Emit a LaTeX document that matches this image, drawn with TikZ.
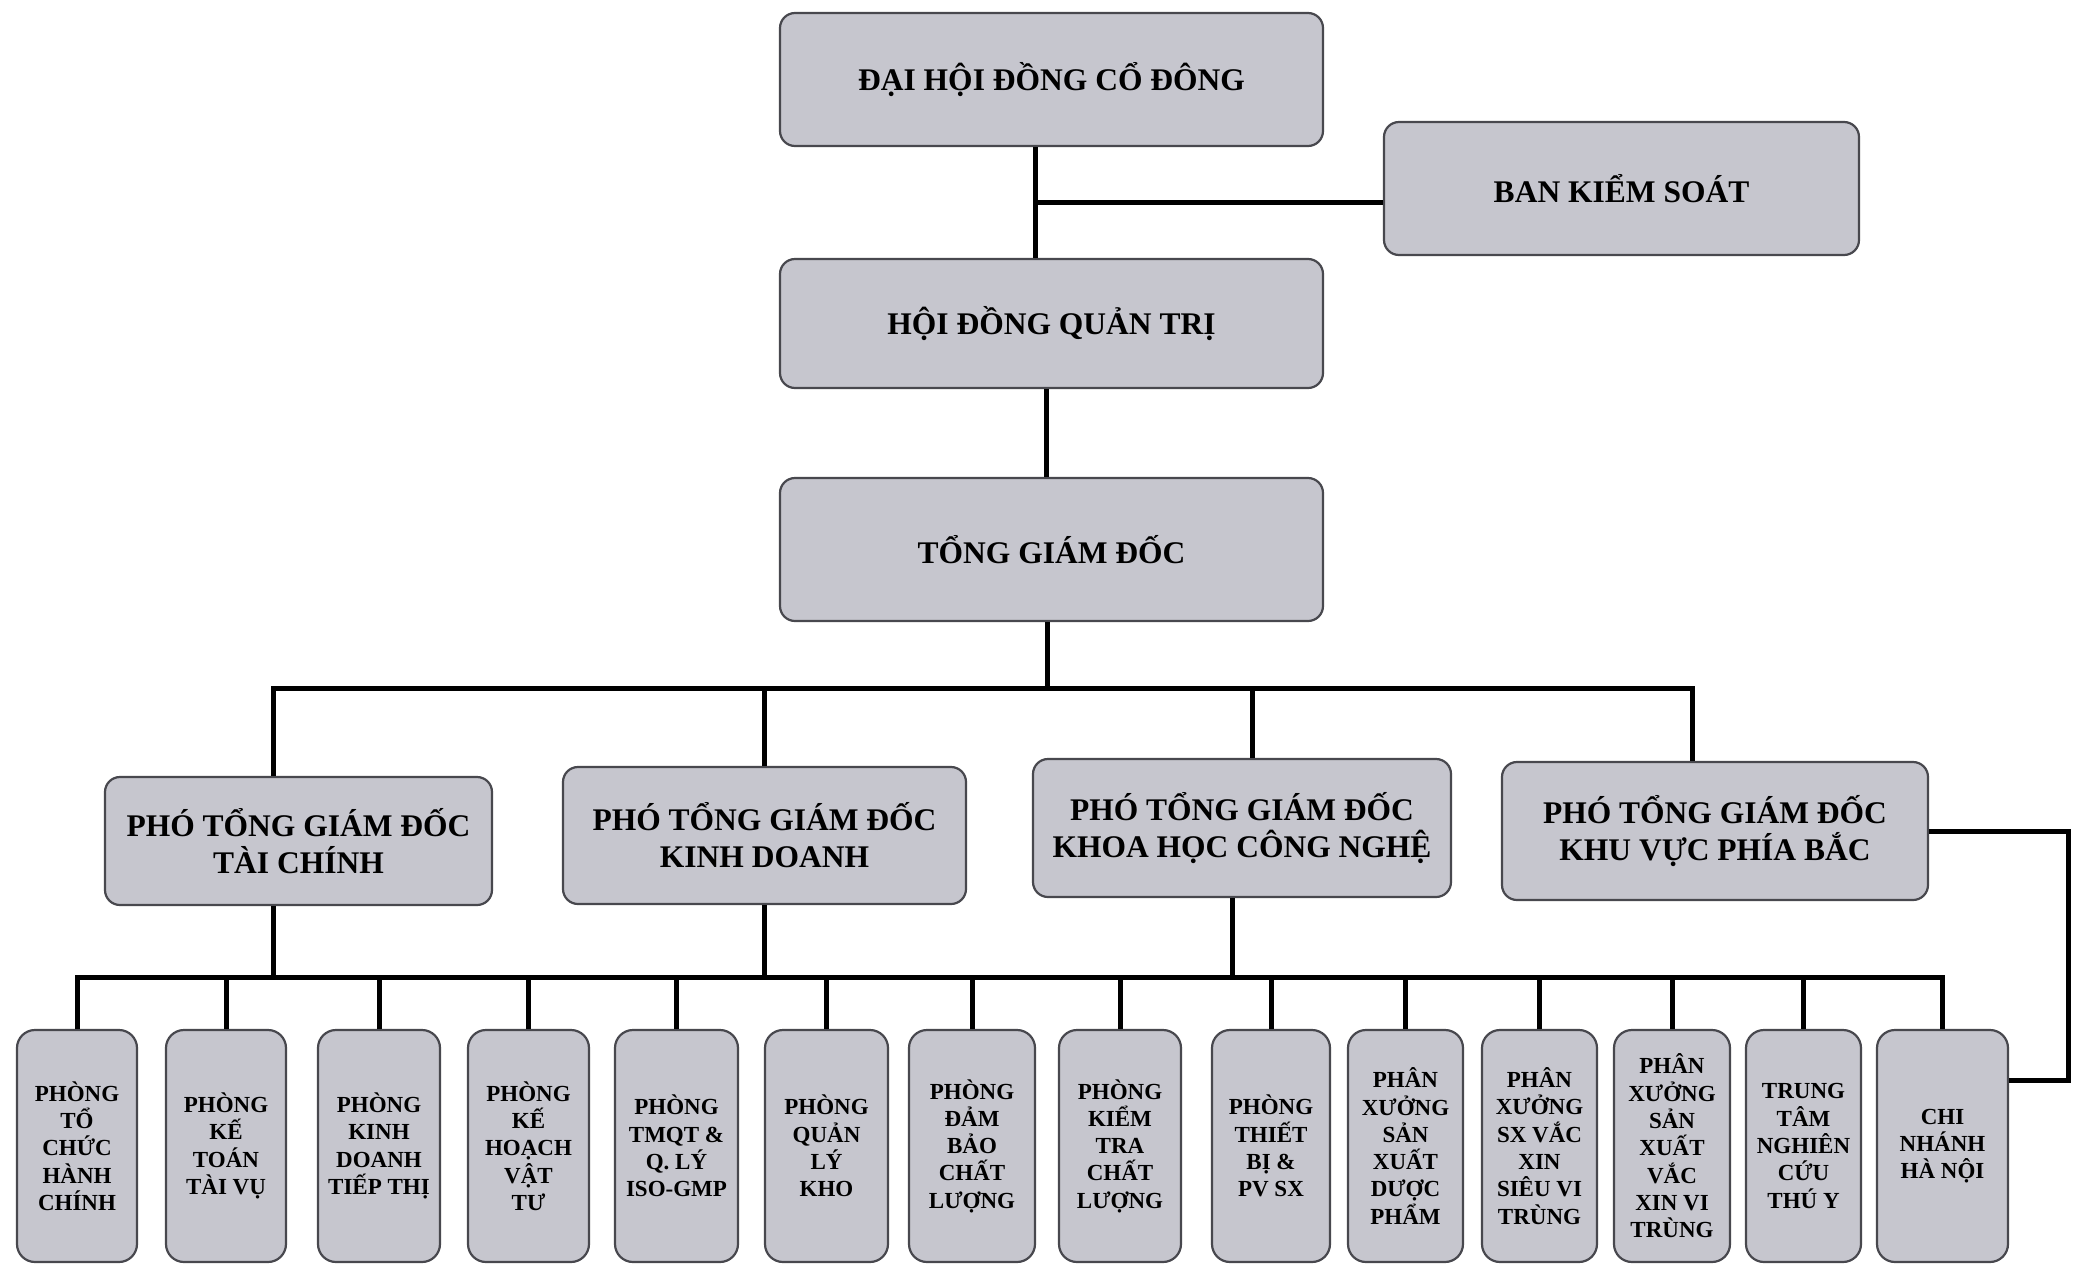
\documentclass[tikz,border=0pt]{standalone}
\usepackage{fontspec}
\setmainfont{Liberation Serif}
\definecolor{boxfill}{RGB}{198,198,206}
\definecolor{boxline}{RGB}{72,72,78}
\begin{document}
\begin{tikzpicture}[x=1pt,y=-1pt,
  box/.style={draw=boxline,line width=2.2pt,fill=boxfill,rounded corners=15pt,
    align=center,inner sep=0pt,font=\bfseries\fontsize{31.5}{37}\selectfont},
  leaf/.style={box,rounded corners=18pt,minimum height=232pt,
    font=\bfseries\fontsize{23}{27.3}\selectfont},
  conn/.style={line width=5pt,draw=black}]
\fill[white] (0,0) rectangle (2081,1264);
\useasboundingbox (0,0) rectangle (2081,1264);

% top level
\node[box,minimum width=543pt,minimum height=133pt] (dh) at (1051.5,79.5) {ĐẠI HỘI ĐỒNG CỔ ĐÔNG};
\node[box,minimum width=475pt,minimum height=133pt] (bks) at (1621.5,188.5) {BAN KIỂM SOÁT};
\node[box,minimum width=543pt,minimum height=129pt] (hd) at (1051.5,323.5) {HỘI ĐỒNG QUẢN TRỊ};
\node[box,minimum width=543pt,minimum height=143pt] (tgd) at (1051.5,549.5) {TỔNG GIÁM ĐỐC};

% vice directors
\node[box,minimum width=387pt,minimum height=128pt] (p1) at (298.5,841) {PHÓ TỔNG GIÁM ĐỐC\\TÀI CHÍNH};
\node[box,minimum width=403pt,minimum height=137pt] (p2) at (764.5,835.5) {PHÓ TỔNG GIÁM ĐỐC\\KINH DOANH};
\node[box,minimum width=418pt,minimum height=138pt] (p3) at (1242,828) {PHÓ TỔNG GIÁM ĐỐC\\KHOA HỌC CÔNG NGHỆ};
\node[box,minimum width=426pt,minimum height=138pt] (p4) at (1715,831) {PHÓ TỔNG GIÁM ĐỐC\\KHU VỰC PHÍA BẮC};

% departments
\node[leaf,minimum width=120pt] (l1) at (77,1146) {PHÒNG\\TỔ\\CHỨC\\HÀNH\\CHÍNH};
\node[leaf,minimum width=120pt] (l2) at (226,1146) {PHÒNG\\KẾ\\TOÁN\\TÀI VỤ};
\node[leaf,minimum width=122pt] (l3) at (379,1146) {PHÒNG\\KINH\\DOANH\\TIẾP THỊ};
\node[leaf,minimum width=121pt] (l4) at (528.5,1146) {PHÒNG\\KẾ\\HOẠCH\\VẬT\\TƯ};
\node[leaf,minimum width=123pt] (l5) at (676.5,1146) {PHÒNG\\TMQT \&\\Q. LÝ\\ISO-GMP};
\node[leaf,minimum width=123pt] (l6) at (826.5,1146) {PHÒNG\\QUẢN\\LÝ\\KHO};
\node[leaf,minimum width=126pt] (l7) at (972,1146) {PHÒNG\\ĐẢM\\BẢO\\CHẤT\\LƯỢNG};
\node[leaf,minimum width=122pt] (l8) at (1120,1146) {PHÒNG\\KIỂM\\TRA\\CHẤT\\LƯỢNG};
\node[leaf,minimum width=118pt] (l9) at (1271,1146) {PHÒNG\\THIẾT\\BỊ \&\\PV SX};
\node[leaf,minimum width=115pt] (l10) at (1405.5,1146) {PHÂN\\XƯỞNG\\SẢN\\XUẤT\\DƯỢC\\PHẨM};
\node[leaf,minimum width=115pt] (l11) at (1539.5,1146) {PHÂN\\XƯỞNG\\SX VẮC\\XIN\\SIÊU VI\\TRÙNG};
\node[leaf,minimum width=116pt] (l12) at (1672,1146) {PHÂN\\XƯỞNG\\SẢN\\XUẤT\\VẮC\\XIN VI\\TRÙNG};
\node[leaf,minimum width=115pt] (l13) at (1803.5,1146) {TRUNG\\TÂM\\NGHIÊN\\CỨU\\THÚ Y};
\node[leaf,minimum width=131pt] (l14) at (1942.5,1146) {CHI\\NHÁNH\\HÀ NỘI};

% junction coordinates
\coordinate (j1) at (1035,202);
\coordinate (topbus) at (0,688);
\coordinate (lowbus) at (0,977);
\coordinate (rc) at (2068,1080);

% connectors
\draw[conn] (dh.south -| j1) -- (hd.north -| j1);
\draw[conn] (j1) -- (j1 -| bks.west);
\draw[conn] (1046,0 |- hd.south) -- (1046,0 |- tgd.north);
\draw[conn] (1047,0 |- tgd.south) -- (1047,0 |- topbus);
\draw[conn] (273,0 |- p1.north) -- (273,0 |- topbus) -- (1692,0 |- topbus) -- (1692,0 |- p4.north);
\draw[conn] (p2.north |- topbus) -- (p2.north);
\draw[conn] (1252,0 |- topbus) -- (1252,0 |- p3.north);

\draw[conn] (273,0 |- p1.south) -- (273,0 |- lowbus);
\draw[conn] (p2.south) -- (p2.south |- lowbus);
\draw[conn] (1232,0 |- p3.south) -- (1232,0 |- lowbus);

\draw[conn] (l1.north) -- (l1.north |- lowbus) -- (l14.north |- lowbus) -- (l14.north);
\foreach \n in {l2,l3,l4,l5,l6,l7,l8,l9,l10,l11,l12,l13}
  \draw[conn] (\n.north |- lowbus) -- (\n.north);

\draw[conn] (p4.east) -| (rc) -- (rc -| l14.east);
\end{tikzpicture}
\end{document}
